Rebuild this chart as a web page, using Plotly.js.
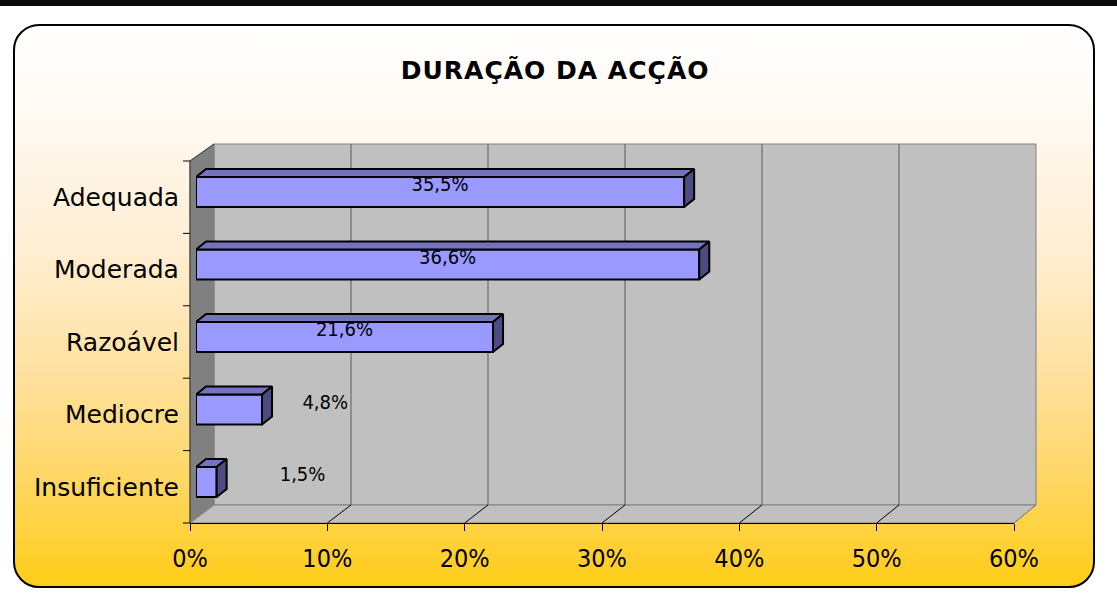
<!DOCTYPE html>
<html>
<head>
<meta charset="utf-8">
<script src="https://cdn.plot.ly/plotly-3.0.1.min.js"></script>
<style>
  html, body { margin:0; padding:0; background:#ffffff; }
  #topbar { position:absolute; left:0; top:0; width:1117px; height:6px; background:#0a0a0a; }
  #box { position:absolute; left:13px; top:24px; width:1078px; height:560px; border:2px solid #000;
         border-radius:26px;
         background: linear-gradient(to bottom, #ffffff 0%, #fff9f0 18%, #ffeed2 40%, #ffe2a4 60%, #ffd766 80%, #ffcd18 100%); }
  #chart { position:absolute; left:0; top:0; width:1117px; height:611px; }
  .gtitle { letter-spacing: 1px; }
</style>
</head>
<body>
<div id="topbar"></div>
<div id="box"></div>
<div id="chart"></div>
<script>
// ---- data ----
const categories = ['Insuficiente', 'Mediocre', 'Razoável', 'Moderada', 'Adequada'];
const values = [1.5, 4.8, 21.6, 36.6, 35.5];
const tickValues = [0, 10, 20, 30, 40, 50, 60];
const tickLabels = ['0%', '10%', '20%', '30%', '40%', '50%', '60%'];
const chartTitle = 'DURAÇÃO DA ACÇÃO';

// ---- geometry helpers (page pixels -> paper) ----
const W = 1117, H = 611;
const px = x => x / W;
const py = y => 1 - y / H;

const barHalf = 0.207;   // half bar thickness in category units
const dx = 0.73;         // 3D depth offset along x (data units)
const dy = 0.11;         // 3D depth offset along y (category units)

const idx = categories.map((c, i) => i);

// top faces & side faces of the 3D bars
const topX = [], topY = [], sideX = [], sideY = [];
values.forEach((v, i) => {
  const t = i + barHalf, b = i - barHalf;
  topX.push(0, v, v + dx, dx, 0, null);
  topY.push(t, t, t + dy, t + dy, t, null);
  sideX.push(v, v, v + dx, v + dx, v, null);
  sideY.push(b, t, t + dy, b + dy, b, null);
});

const fmt = v => v.toFixed(1).replace('.', ',') + '%';
const labelX = values.map(v => v >= 10 ? v / 2 : v / 2 + 7);

const traces = [
  { type: 'bar', orientation: 'h', x: values, y: idx, width: barHalf * 2,
    marker: { color: '#9999FF', line: { color: '#000000', width: 2 } },
    hoverinfo: 'skip', xaxis: 'x', yaxis: 'y' },
  { type: 'scatter', mode: 'lines', x: topX, y: topY, fill: 'toself',
    fillcolor: '#7373BF', line: { color: '#000000', width: 2 }, hoverinfo: 'skip',
    xaxis: 'x', yaxis: 'y' },
  { type: 'scatter', mode: 'lines', x: sideX, y: sideY, fill: 'toself',
    fillcolor: '#4C4C80', line: { color: '#000000', width: 2 }, hoverinfo: 'skip',
    xaxis: 'x', yaxis: 'y' },
  { type: 'scatter', mode: 'text', x: labelX, y: idx.map(i => i + 0.08),
    text: values.map(fmt), textposition: 'middle center', cliponaxis: false,
    textfont: { family: 'DejaVu Sans Condensed, DejaVu Sans, sans-serif', size: 20, color: '#000' },
    hoverinfo: 'skip', xaxis: 'x', yaxis: 'y' },
  { type: 'scatter', mode: 'markers', x: [0, 60], y: [0, 0], opacity: 0,
    hoverinfo: 'skip', xaxis: 'x2', yaxis: 'y' }
];

// ---- 3D frame (walls, floor, gridlines) ----
const shapes = [];
const backL = 214, backR = 1036, backT = 144, backB = 505;
const frontL = 190, frontR = 1014, frontT = 161, frontB = 523;
const gray = '#808080';
shapes.push({ type: 'rect', xref: 'paper', yref: 'paper', layer: 'below',
  x0: px(backL), x1: px(backR), y0: py(backB), y1: py(backT),
  fillcolor: '#C0C0C0', line: { color: gray, width: 1 } });
shapes.push({ type: 'path', xref: 'paper', yref: 'paper', layer: 'below',
  path: `M${px(frontL)},${py(frontT)} L${px(backL)},${py(backT)} L${px(backL)},${py(backB)} L${px(frontL)},${py(frontB)} Z`,
  fillcolor: '#808080', line: { color: gray, width: 1 } });
shapes.push({ type: 'path', xref: 'paper', yref: 'paper', layer: 'below',
  path: `M${px(frontL)},${py(frontB)} L${px(backL)},${py(backB)} L${px(backR)},${py(backB)} L${px(frontR)},${py(frontB)} Z`,
  fillcolor: '#C0C0C0', line: { color: gray, width: 1 } });
tickValues.slice(1).forEach(t => {
  const xb = backL + (backR - backL) * t / 60;
  const xf = frontL + (frontR - frontL) * t / 60;
  if (t < 60) {
    shapes.push({ type: 'line', xref: 'paper', yref: 'paper', layer: 'below',
      x0: px(xb), x1: px(xb), y0: py(backB), y1: py(backT),
      line: { color: '#5a5a5a', width: 1 } });
  }
  shapes.push({ type: 'line', xref: 'paper', yref: 'paper', layer: 'below',
    x0: px(xb), x1: px(xf), y0: py(backB), y1: py(frontB),
    line: { color: t < 60 ? '#000000' : gray, width: 1 } });
});
// left axis line + category separator ticks
shapes.push({ type: 'line', xref: 'paper', yref: 'paper', layer: 'below',
  x0: px(frontL), x1: px(frontL), y0: py(frontT), y1: py(frontB),
  line: { color: '#333333', width: 1 } });
shapes.push({ type: 'line', xref: 'paper', yref: 'paper', layer: 'below',
  x0: px(frontL), x1: px(backL), y0: py(frontT), y1: py(backT),
  line: { color: '#333333', width: 1 } });
for (let k = 0; k <= categories.length; k++) {
  const yy = frontT + (frontB - frontT) * k / categories.length;
  shapes.push({ type: 'line', xref: 'paper', yref: 'paper', layer: 'below',
    x0: px(183), x1: px(frontL), y0: py(yy), y1: py(yy),
    line: { color: '#000000', width: 1 } });
}

const annotations = categories.map((c, i) => ({
  xref: 'paper', yref: 'y', x: px(181), y: i, yshift: -5,
  xanchor: 'right', yanchor: 'middle', showarrow: false, text: c,
  font: { family: 'DejaVu Sans, sans-serif', size: 25, color: '#000' }
}));

const layout = {
  width: W, height: H,
  margin: { l: 0, r: 0, t: 0, b: 0, pad: 0 },
  paper_bgcolor: 'rgba(0,0,0,0)', plot_bgcolor: 'rgba(0,0,0,0)',
  showlegend: false,
  title: { text: chartTitle, x: 0.497, xref: 'paper', y: py(70), yref: 'paper',
    xanchor: 'center', yanchor: 'middle',
    font: { family: 'DejaVu Sans, sans-serif', size: 25, weight: 'bold', color: '#000' } },
  xaxis: { domain: [px(196), px(1021)], range: [0, 60], visible: false, fixedrange: true },
  yaxis: { domain: [py(518.25), py(155.75)], range: [-0.5, 4.5], visible: false, fixedrange: true },
  xaxis2: { domain: [px(frontL), px(frontR)], range: [0, 60], anchor: 'free',
    position: py(frontB), tickvals: tickValues, ticktext: tickLabels,
    ticks: 'outside', ticklen: 7, tickcolor: '#000', tickwidth: 1,
    showline: true, linecolor: '#000', linewidth: 1,
    showgrid: false, zeroline: false, fixedrange: true, ticklabelstandoff: 6,
    tickfont: { family: 'DejaVu Sans Condensed, DejaVu Sans, sans-serif', size: 25, color: '#000' } },
  shapes: shapes,
  annotations: annotations
};

Plotly.newPlot('chart', traces, layout, { displayModeBar: false, staticPlot: true });
</script>
</body>
</html>
